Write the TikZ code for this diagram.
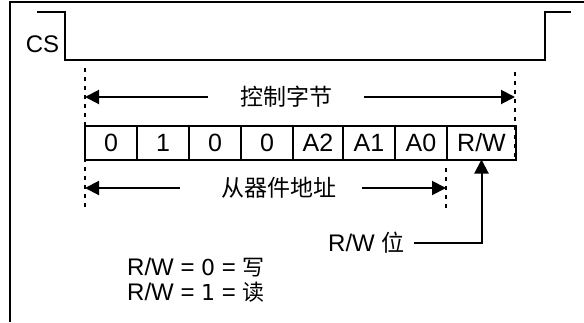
\documentclass[tikz,border=0pt]{standalone}
\usepackage{fontspec}
\setmainfont{Liberation Sans}
\newfontfamily\cjk{Noto Sans CJK SC}
\newfontfamily\dvs{DejaVu Sans}
\usetikzlibrary{arrows.meta}
\begin{document}
\begin{tikzpicture}[x=1pt,y=-1pt,
  wire/.style={line width=2pt},
  cell/.style={draw, line width=2pt, minimum height=34pt, inner sep=0pt, outer sep=0pt, anchor=west, font=\fontsize{25}{25}\selectfont},
  guide/.style={line width=2pt, dash pattern=on 4pt off 5pt},
  arr/.style={line width=2pt, -{Triangle[length=14pt,width=14pt]}},
  lbl/.style={font=\fontsize{24}{26}\selectfont, inner sep=0pt},
  cjklbl/.style={font=\cjk\fontsize{23}{25}\selectfont, inner sep=0pt}]
\useasboundingbox (0,0) rectangle (584,322);
% frame
\draw[wire] (10,322) -- (10,2) -- (584,2);
% CS waveform
\node[lbl] (cs) at (42.5,44) {CS};
\draw[wire] (37,12) -- (65,12) -- (65,60) -- (545,60) -- (545,12) -- (571,12);
% cells
\node[cell, minimum width=52pt] (c1) at (85,142.5) {0};
\node[cell, minimum width=52pt] (c2) at (c1.east) {1};
\node[cell, minimum width=52pt] (c3) at (c2.east) {0};
\node[cell, minimum width=52pt] (c4) at (c3.east) {0};
\node[cell, minimum width=50pt] (c5) at (c4.east) {A2};
\node[cell, minimum width=52pt] (c6) at (c5.east) {A1};
\node[cell, minimum width=52pt] (c7) at (c6.east) {A0};
\node[cell, minimum width=69pt] (c8) at (c7.east) {R/W};
% guides
\coordinate (gl1) at (85,68);
\coordinate (gl2) at (85,210);
\coordinate (gr1) at (515,72);
\coordinate (gr2) at (515,160);
\coordinate (gm1) at (446,168);
\coordinate (gm2) at (446,212);
\draw[guide] (gl1) -- (gl2);
\draw[guide] (gr1) -- (gr2);
\draw[guide] (gm1) -- (gm2);
% control byte
\node[cjklbl] (ctrl) at (286,97) {控制字节};
\coordinate (ca) at (208,97);
\coordinate (cb) at (364,97);
\draw[arr] (ca) -- (gl1 |- ca);
\draw[arr] (cb) -- (gr1 |- cb);
% slave address
\node[cjklbl] (addr) at (278.5,188) {从器件地址};
\coordinate (aa) at (180,188);
\coordinate (ab) at (362,188);
\draw[arr] (aa) -- (gl1 |- aa);
\draw[arr] (ab) -- (gm1 |- ab);
% R/W bit
\node[lbl, anchor=west] (rw) at (328,243) {R/W {\cjk\fontsize{23}{25}\selectfont 位}};
\coordinate (rwa) at (414,243);
\draw[arr] (rwa) -- (c8.south |- rwa) -- (c8.south);
% legend
\node[lbl, anchor=west] (l0) at (127,268) {R/W = {\dvs\fontsize{22}{24}\selectfont 0} = {\cjk\fontsize{22}{24}\selectfont 写}};
\node[lbl, anchor=west] (l1) at (127,292) {R/W = {\dvs\fontsize{22}{24}\selectfont 1} = {\cjk\fontsize{22}{24}\selectfont 读}};
\end{tikzpicture}
\end{document}
